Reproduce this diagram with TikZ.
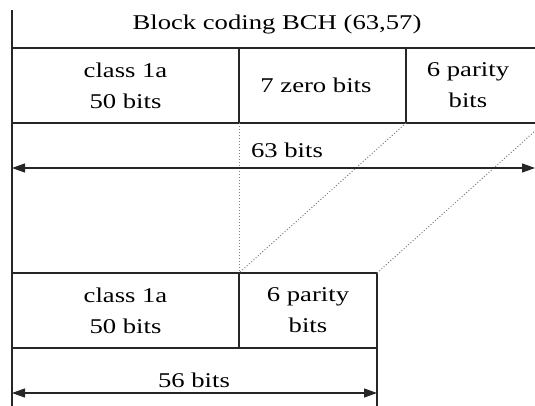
\documentclass[tikz,border=0pt]{standalone}
\usepackage{fontspec}
\setmainfont{Liberation Serif}[FakeStretch=1.27]
\usetikzlibrary{arrows.meta}

\begin{document}
\begin{tikzpicture}[x=1pt, y=-1pt, line width=1.2pt, draw=black!85,
    txt/.style={font=\fontsize{21}{31}\selectfont, align=center, inner sep=0pt},
    dimline/.style={{Triangle[length=13pt,width=9pt]}-{Triangle[length=13pt,width=9pt]}},
    guide/.style={dotted, gray, line width=1pt}]
    \useasboundingbox (0,0) rectangle (535,406);
    % corners of the two frames
    \coordinate (A) at (12,48);
    \coordinate (B) at (535,48);
    \coordinate (C) at (12,123);
    \coordinate (D) at (535,123);
    \coordinate (Z) at (239,123);
    \coordinate (P) at (406,123);
    \coordinate (E) at (12,273);
    \coordinate (F) at (377,273);
    \coordinate (G) at (12,348);
    \coordinate (H) at (377,348);
    \coordinate (M) at (239,273);
    % upper frame
    \draw (12,10) -- (12,406);
    \draw (A) -- (B);
    \draw (C) -- (D);
    \draw (239,48) -- (Z);
    \draw (406,48) -- (P);
    % lower frame
    \draw (E) -- (F) -- (377,406);
    \draw (G) -- (H);
    \draw (M) -- (239,348);
    % dotted guides
    \draw [guide] (Z) -- (M);
    \draw [guide] (P) -- (M);
    \draw [guide] (F) -- (535,131);
    % lengths
    \coordinate (L1) at (12,168);
    \coordinate (R1) at (535,168);
    \coordinate (L2) at (12,393);
    \coordinate (R2) at (377,393);
    \draw [dimline] (L1) -- (R1);
    \draw [dimline] (L2) -- (R2);
    % texts
    \node [txt, anchor=base] (title) at (277,30) {Block coding BCH (63,57)};
    \node [txt] (a1) at (125.5,85.5) {class 1a\\50 bits};
    \node [txt] (z1) at (316,85.5) {7 zero bits};
    \node [txt] (p1) at (468,85.5) {6 parity\\bits};
    \node [txt, anchor=base] (n63) at (287,158) {63 bits};
    \node [txt] (a2) at (125.5,310.5) {class 1a\\50 bits};
    \node [txt] (p2) at (308,310.5) {6 parity\\bits};
    \node [txt, anchor=base] (n56) at (194,387) {56 bits};
\end{tikzpicture}
\end{document}
